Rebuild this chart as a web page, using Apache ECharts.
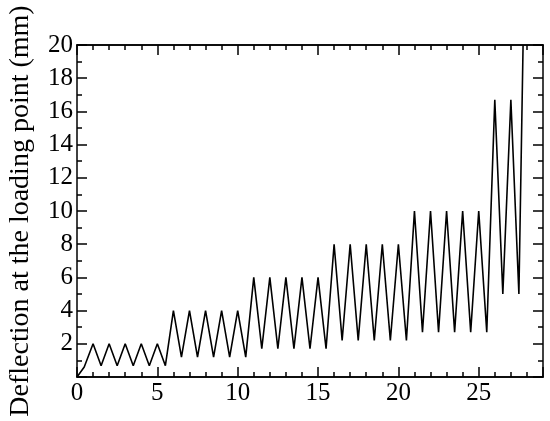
<!DOCTYPE html>
<html>
<head>
<meta charset="utf-8">
<script src="https://cdn.jsdelivr.net/npm/echarts@6/dist/echarts.min.js"></script>
<style>
  html, body { margin: 0; padding: 0; background: #fff; }
  #main { width: 550px; height: 421px; }
</style>
</head>
<body>
<div id="main"></div>
<script>
  // load cycles: x = cycle position, y = deflection (mm)
  var cycleX = [0, 0.45, 1, 1.5, 2, 2.5, 3, 3.5, 4, 4.5, 5, 5.5,
    6, 6.5, 7, 7.5, 8, 8.5, 9, 9.5, 10, 10.5,
    11, 11.5, 12, 12.5, 13, 13.5, 14, 14.5, 15, 15.5,
    16, 16.5, 17, 17.5, 18, 18.5, 19, 19.5, 20, 20.5,
    21, 21.5, 22, 22.5, 23, 23.5, 24, 24.5, 25, 25.5,
    26, 26.5, 27, 27.5, 27.76];
  var deflection = [0, 0.6, 2, 0.68, 2, 0.68, 2, 0.68, 2, 0.68, 2, 0.68,
    4, 1.2, 4, 1.2, 4, 1.2, 4, 1.2, 4, 1.2,
    6, 1.7, 6, 1.7, 6, 1.7, 6, 1.7, 6, 1.7,
    8, 2.2, 8, 2.2, 8, 2.2, 8, 2.2, 8, 2.2,
    10, 2.7, 10, 2.7, 10, 2.7, 10, 2.7, 10, 2.7,
    16.7, 5.0, 16.7, 5.0, 20];
  var yTitle = 'Deflection at the loading point (mm)';

  var font = 'Liberation Serif';
  var chart = echarts.init(document.getElementById('main'));

  var points = [];
  for (var i = 0; i < cycleX.length; i++) {
    points.push([cycleX[i], deflection[i]]);
  }

  function xAx(pos, interval, len, labels) {
    return {
      type: 'value', position: pos, min: 0, max: 29, interval: interval,
      axisLine: { show: true, onZero: false, lineStyle: { color: '#000', width: 1.5 } },
      axisTick: { show: true, inside: true, length: len, lineStyle: { color: '#000', width: 1.5 } },
      axisLabel: {
        show: labels, color: '#000', fontFamily: font, fontSize: 25, margin: 4,
        formatter: function (v) { return v % 5 === 0 ? String(v) : ''; }
      },
      splitLine: { show: false }
    };
  }
  function yAx(pos, labels) {
    return {
      type: 'value', position: pos, min: 0, max: 20, interval: 2,
      name: labels ? yTitle : '', nameLocation: 'middle', nameGap: 42,
      nameTextStyle: { color: '#000', fontFamily: font, fontSize: 28 },
      axisLine: { show: true, onZero: false, lineStyle: { color: '#000', width: 1.5 } },
      axisTick: { show: true, inside: true, length: 10, lineStyle: { color: '#000', width: 1.5 } },
      minorTick: { show: true, splitNumber: 2, length: 5, lineStyle: { color: '#000', width: 1.5 } },
      axisLabel: {
        show: labels, color: '#000', fontFamily: font, fontSize: 25, margin: 4,
        formatter: function (v) { return v === 0 ? '' : String(v); }
      },
      splitLine: { show: false }
    };
  }

  chart.setOption({
    animation: false,
    grid: { left: 77, right: 7, top: 45, bottom: 44, outerBoundsMode: 'none', containLabel: false },
    xAxis: [
      xAx('bottom', 5, 10, true),
      xAx('bottom', 1, 5, false),
      xAx('top', 5, 10, false),
      xAx('top', 1, 5, false)
    ],
    yAxis: [
      yAx('left', true),
      yAx('right', false)
    ],
    series: [{
      type: 'line',
      data: points,
      xAxisIndex: 0,
      yAxisIndex: 0,
      showSymbol: false,
      lineStyle: { color: '#000', width: 1.6 }
    }]
  });
</script>
</body>
</html>
